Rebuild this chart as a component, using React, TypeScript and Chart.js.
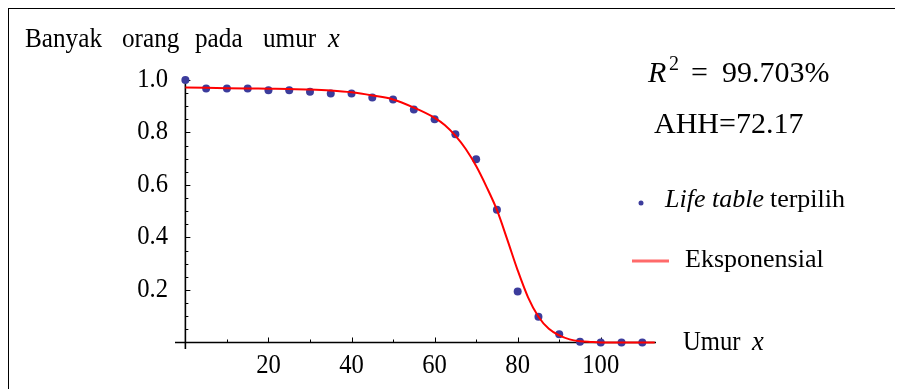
import React, { useEffect, useRef } from "react";
import { Chart, registerables } from "chart.js";

Chart.register(...registerables);

// ---- data ----
const ages = [0, 5, 10, 15, 20, 25, 30, 35, 40, 45, 50, 55, 60, 65, 70, 75, 80, 85, 90, 95, 100, 105, 110];
const lifeTable = [1.0, 0.968, 0.968, 0.968, 0.961, 0.961, 0.955, 0.949, 0.949, 0.933, 0.926, 0.888, 0.85, 0.793, 0.698, 0.506, 0.194, 0.098, 0.031, 0.003, 0.0, 0.0, 0.0];

const fitAges = [0, 5, 10, 15, 20, 25, 30, 35, 40, 45, 50, 55, 60, 62.5, 65, 67.5, 70, 72.5, 75, 77.5, 80, 82.5, 85, 87.5, 90, 92.5, 95, 97.5, 100, 105, 110, 113];
const fitValues = [0.971, 0.97, 0.969, 0.968, 0.967, 0.966, 0.964, 0.96, 0.953, 0.941, 0.926, 0.895, 0.856, 0.828, 0.788, 0.737, 0.672, 0.593, 0.505, 0.392, 0.275, 0.172, 0.098, 0.052, 0.027, 0.012, 0.005, 0.002, 0.0, 0.0, 0.0, 0.0];

const xMajorTicks = [20, 40, 60, 80, 100];
const xMinorTicks = [10, 30, 50, 70, 90, 110];
const yMajorTicks = [0.2, 0.4, 0.6, 0.8, 1.0];
const yTickLabels = ["0.2", "0.4", "0.6", "0.8", "1.0"];
const yMinorTicks = [0.05, 0.1, 0.15, 0.25, 0.3, 0.35, 0.45, 0.5, 0.55, 0.65, 0.7, 0.75, 0.85, 0.9, 0.95];

const titleWords = ["Banyak", "orang", "pada", "umur"];
const rSquared = "99.703%";
const ahh = "AHH=72.17";
const legendPoints = ["Life table", "terpilih"];
const legendLine = "Eksponensial";

const SERIF = '"Liberation Serif", "Times New Roman", serif';
const POINT_COLOR = "#3c3c9c";

function txt(
  ctx: CanvasRenderingContext2D,
  s: string,
  x: number,
  y: number,
  font: string,
  align: "left" | "right" | "center" = "left",
  sx = 1,
  color = "#000"
) {
  ctx.save();
  ctx.font = font;
  ctx.fillStyle = color;
  ctx.textBaseline = "alphabetic";
  ctx.textAlign = "left";
  const w = ctx.measureText(s).width * sx;
  const x0 = align === "left" ? x : align === "right" ? x - w : x - w / 2;
  ctx.translate(x0, y);
  ctx.scale(sx, 1);
  ctx.fillText(s, 0, 0);
  ctx.restore();
  return w;
}

const axesPlugin = {
  id: "mathAxes",
  beforeDatasetsDraw(chart: any) {
    const ctx: CanvasRenderingContext2D = chart.ctx;
    const xs = chart.scales.x;
    const ys = chart.scales.y;
    const x0 = xs.getPixelForValue(0);
    const y0 = ys.getPixelForValue(0);
    ctx.save();
    ctx.strokeStyle = "#000";
    ctx.lineWidth = 1.6;
    ctx.beginPath();
    ctx.moveTo(xs.getPixelForValue(xs.min), y0);
    ctx.lineTo(xs.getPixelForValue(xs.max), y0);
    ctx.moveTo(x0, ys.getPixelForValue(ys.min));
    ctx.lineTo(x0, ys.getPixelForValue(ys.max));
    ctx.stroke();
    ctx.lineWidth = 1;
    ctx.beginPath();
    xMajorTicks.forEach((v) => {
      const p = Math.round(xs.getPixelForValue(v)) + 0.5;
      ctx.moveTo(p, y0);
      ctx.lineTo(p, y0 - 5);
    });
    xMinorTicks.forEach((v) => {
      const p = Math.round(xs.getPixelForValue(v)) + 0.5;
      ctx.moveTo(p, y0);
      ctx.lineTo(p, y0 - 3);
    });
    yMajorTicks.forEach((v) => {
      const p = Math.round(ys.getPixelForValue(v)) + 0.5;
      ctx.moveTo(x0, p);
      ctx.lineTo(x0 + 5, p);
    });
    yMinorTicks.forEach((v) => {
      const p = Math.round(ys.getPixelForValue(v)) + 0.5;
      ctx.moveTo(x0, p);
      ctx.lineTo(x0 + 3, p);
    });
    ctx.stroke();
    ctx.restore();
  },
  afterDraw(chart: any) {
    const ctx: CanvasRenderingContext2D = chart.ctx;
    const xs = chart.scales.x;
    const ys = chart.scales.y;
    const tickFont = `28px ${SERIF}`;
    // tick labels
    xMajorTicks.forEach((v) => {
      txt(ctx, String(v), xs.getPixelForValue(v), 373, tickFont, "center", 0.88);
    });
    yMajorTicks.forEach((v, i) => {
      txt(ctx, yTickLabels[i], 168, ys.getPixelForValue(v) + 7, tickFont, "right", 0.88);
    });
    // title (y-axis label)
    const titleX = [25, 122, 195, 263];
    titleWords.forEach((w, i) => txt(ctx, w, titleX[i], 47, `28px ${SERIF}`, "left", 0.9));
    txt(ctx, "x", 328, 47, `italic 28px ${SERIF}`, "left", 0.95);
    // x-axis label
    txt(ctx, "Umur", 683, 350, `28px ${SERIF}`, "left", 0.88);
    txt(ctx, "x", 752, 350, `italic 28px ${SERIF}`, "left", 0.95);
    // R^2 annotation
    txt(ctx, "R", 648, 82, `italic 30px ${SERIF}`, "left", 1);
    txt(ctx, "2", 669, 70, `20px ${SERIF}`, "left", 1);
    txt(ctx, "=", 691, 82, `30px ${SERIF}`, "left", 1);
    txt(ctx, rSquared, 722, 82, `30px ${SERIF}`, "left", 1);
    // AHH
    txt(ctx, ahh, 654, 133, `30px ${SERIF}`, "left", 1);
    // legend
    ctx.save();
    ctx.fillStyle = POINT_COLOR;
    ctx.beginPath();
    ctx.arc(641, 203, 2.5, 0, Math.PI * 2);
    ctx.fill();
    ctx.strokeStyle = "#ff6a6a";
    ctx.lineWidth = 3;
    ctx.beginPath();
    ctx.moveTo(632, 261);
    ctx.lineTo(669, 261);
    ctx.stroke();
    ctx.restore();
    const w1 = txt(ctx, legendPoints[0], 665, 207, `italic 26px ${SERIF}`, "left", 1);
    txt(ctx, legendPoints[1], 665 + w1 + 6, 207, `26px ${SERIF}`, "left", 1);
    txt(ctx, legendLine, 685, 267, `26px ${SERIF}`, "left", 1);
  },
};

export default function App() {
  const ref = useRef<HTMLCanvasElement | null>(null);
  useEffect(() => {
    if (!ref.current) return;
    const chart = new Chart(ref.current, {
      type: "scatter",
      data: {
        datasets: [
          {
            label: "Eksponensial",
            data: fitAges.map((a, i) => ({ x: a, y: fitValues[i] })),
            showLine: true,
            borderColor: "#ff0000",
            borderWidth: 2,
            pointRadius: 0,
            cubicInterpolationMode: "monotone",
            clip: false,
            order: 0,
          } as any,
          {
            label: "Life table terpilih",
            data: ages.map((a, i) => ({ x: a, y: lifeTable[i] })),
            showLine: false,
            backgroundColor: POINT_COLOR,
            borderColor: POINT_COLOR,
            borderWidth: 0,
            pointRadius: 4,
            clip: false,
            order: 1,
          } as any,
        ],
      },
      options: {
        responsive: false,
        animation: false,
        devicePixelRatio: 1,
        layout: { padding: { left: 175, right: 247, top: 77, bottom: 41 }, autoPadding: false } as any,
        scales: {
          x: { type: "linear", min: -2.5, max: 113.3, display: false },
          y: { type: "linear", min: -0.0248, max: 1.0114, display: false },
        },
        plugins: { legend: { display: false }, tooltip: { enabled: false } },
      },
      plugins: [axesPlugin],
    });
    return () => chart.destroy();
  }, []);

  return (
    <div
      style={{
        position: "relative",
        width: 888,
        height: 380,
        margin: "-1px 0 0 -1px",
        borderTop: "2px solid #000",
        borderLeft: "2px solid #000",
        borderRight: "2px solid #000",
        background: "#fff",
      }}
    >
      <canvas
        ref={ref}
        width={903}
        height={390}
        style={{ position: "absolute", left: -9, top: -9, width: 903, height: 390 }}
      />
    </div>
  );
}
